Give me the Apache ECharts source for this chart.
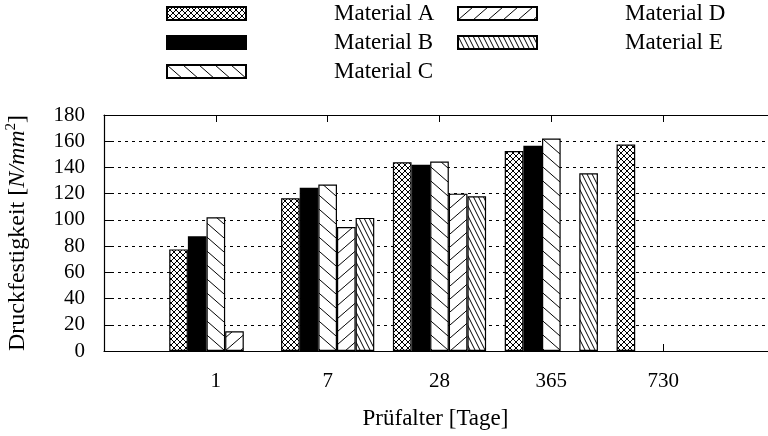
<!DOCTYPE html>
<html>
<head>
<meta charset="utf-8">
<script src="https://cdn.jsdelivr.net/npm/echarts@6/dist/echarts.min.js"></script>
<style>
  html, body { margin: 0; padding: 0; background: #fff; }
  #chart { width: 768px; height: 436px; }
</style>
</head>
<body>
<div id="chart"></div>
<script>
// Test ages (days) and compressive strength per material [N/mm²]
const AGES = ['1', '7', '28', '365', '730'];
const MATERIALS = ['Material A', 'Material B', 'Material C', 'Material D', 'Material E'];
const MAT_A = [77.5, 116.5, 144, 152.5, 157.5];
const MAT_B = [87.5, 124.5, 142, 156.5, null];
const MAT_C = [102, 127, 144.5, 162, null];
const MAT_D = [15, 94.5, 120, null, null];
const MAT_E = [null, 101.5, 118, 135.5, null];
const Y_TICKS = [0, 20, 40, 60, 80, 100, 120, 140, 160, 180];

const FONT = "'Liberation Serif', 'DejaVu Serif', serif";

// Tiled hatch fills, white background with thin black strokes
function hatch(w, h, draw) {
  const c = document.createElement('canvas');
  c.width = w; c.height = h;
  const g = c.getContext('2d');
  g.fillStyle = '#fff';
  g.fillRect(0, 0, w, h);
  g.strokeStyle = '#000';
  g.lineWidth = 1;
  g.beginPath();
  draw(g, w, h);
  g.stroke();
  return { image: c, repeat: 'repeat' };
}
function back(g, w, h) {            // "\" direction
  for (let k = -1; k <= 1; k++) { g.moveTo(k * w, 0); g.lineTo(k * w + w, h); }
}
function fwd(g, w, h) {             // "/" direction
  for (let k = -1; k <= 1; k++) { g.moveTo(k * w, h); g.lineTo(k * w + w, 0); }
}
const FILLS = [
  hatch(6, 6, (g, w, h) => { back(g, w, h); fwd(g, w, h); }),
  '#000',
  hatch(16, 14, back),
  hatch(15, 13, fwd),
  hatch(5, 10, back)
];
const VALUES = [MAT_A, MAT_B, MAT_C, MAT_D, MAT_E];

// padded category list so the frame starts one group left of the first age
const xCats = [''].concat(AGES, ['']);

const chart = echarts.init(document.getElementById('chart'), null, { renderer: 'canvas' });

const legendBase = {
  orient: 'vertical',
  top: 2,
  padding: 0,
  itemWidth: 79,
  itemHeight: 13,
  itemGap: 6,
  icon: 'rect',
  selectedMode: false,
  textStyle: { fontFamily: FONT, fontSize: 23, color: '#000', lineHeight: 20, padding: [0, 0, 0, 83] }
};

chart.setOption({
  animation: false,
  backgroundColor: '#fff',
  textStyle: { fontFamily: FONT, color: '#000' },
  legend: [
    Object.assign({}, legendBase, { left: 166, data: MATERIALS.slice(0, 3) }),
    Object.assign({}, legendBase, { left: 457, data: MATERIALS.slice(3) })
  ],
  grid: {
    left: 104, top: 115, width: 671, height: 236,
    show: false, containLabel: false, outerBoundsMode: 'none'
  },
  xAxis: [
    {
      type: 'category',
      data: xCats,
      boundaryGap: false,
      position: 'bottom',
      name: 'Prüfalter [Tage]',
      nameLocation: 'middle',
      nameGap: 56,
      nameTextStyle: { fontFamily: FONT, fontSize: 23, color: '#000', padding: [0, 8, 0, 0] },
      axisLine: { show: true, lineStyle: { color: '#000', width: 1.2 } },
      axisTick: { show: true, inside: true, length: 7, interval: 0, lineStyle: { color: '#000', width: 1 } },
      axisLabel: { interval: 0, margin: 20, fontFamily: FONT, fontSize: 21, color: '#000' },
      splitLine: { show: false }
    },
    {
      type: 'category',
      data: xCats,
      boundaryGap: false,
      position: 'top',
      axisLine: { show: true, lineStyle: { color: '#000', width: 1.2 } },
      axisTick: { show: true, inside: true, length: 7, interval: 0, lineStyle: { color: '#000', width: 1 } },
      axisLabel: { show: false },
      splitLine: { show: false }
    }
  ],
  yAxis: {
    type: 'value',
    min: Y_TICKS[0],
    max: Y_TICKS[Y_TICKS.length - 1],
    interval: Y_TICKS[1] - Y_TICKS[0],
    name: 'Druckfestigkeit [{i|N/mm}{s|2}]',
    nameLocation: 'middle',
    nameGap: 72,
    nameRotate: 90,
    nameTextStyle: {
      fontFamily: FONT, fontSize: 24, color: '#000',
      rich: {
        i: { fontFamily: FONT, fontSize: 24, fontStyle: 'italic', color: '#000' },
        s: { fontFamily: FONT, fontSize: 15, color: '#000', verticalAlign: 'top', lineHeight: 28 }
      }
    },
    axisLine: { show: true, lineStyle: { color: '#000', width: 1.2 } },
    axisTick: { show: true, inside: true, length: 7, lineStyle: { color: '#000', width: 1 } },
    axisLabel: { margin: 19, fontFamily: FONT, fontSize: 21, color: '#000' },
    splitLine: { show: true, lineStyle: { color: '#000', width: 1, type: [3, 4] } }
  },
  series: MATERIALS.map((name, i) => ({
    name: name,
    type: 'bar',
    xAxisIndex: 0,
    data: [null].concat(VALUES[i], [null]),
    barGap: '0%',
    barCategoryGap: '16.667%',
    itemStyle: { color: FILLS[i], borderColor: '#000', borderWidth: 1.2 },
    emphasis: { disabled: true }
  }))
});
</script>
</body>
</html>
